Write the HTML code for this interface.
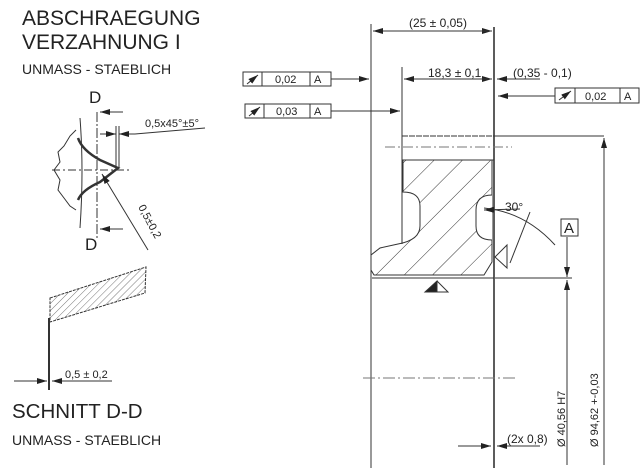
<!DOCTYPE html>
<html><head><meta charset="utf-8"><style>
html,body{margin:0;padding:0;background:#fff;}
svg{display:block;font-family:"Liberation Sans",sans-serif;}
</style></head><body>
<svg width="640" height="472" viewBox="0 0 640 472" xmlns="http://www.w3.org/2000/svg">
<defs>
<pattern id="h" patternUnits="userSpaceOnUse" width="20" height="20" patternTransform="rotate(45)"><line x1="0" y1="0" x2="0" y2="20" stroke="#333" stroke-width="1"/></pattern>
<pattern id="h2" patternUnits="userSpaceOnUse" width="5" height="5" patternTransform="rotate(45)"><line x1="0" y1="0" x2="0" y2="5" stroke="#555" stroke-width="0.8"/></pattern>
<marker id="a" markerWidth="10" markerHeight="6" refX="10" refY="3" orient="auto" markerUnits="userSpaceOnUse"><path d="M0,0 L10,3 L0,6z" fill="#222"/></marker>
</defs>
<g fill="#222">
<text x="22" y="25" font-size="21">ABSCHRAEGUNG</text>
<text x="22" y="49" font-size="21">VERZAHNUNG I</text>
<text x="22" y="74" font-size="14">UNMASS - STAEBLICH</text>
<text x="89" y="103" font-size="17">D</text>
<text x="85" y="250" font-size="17">D</text>
<text x="145" y="127" font-size="11">0,5x45°±5°</text>
<text x="0" y="0" font-size="11" transform="translate(138,207) rotate(62)">0,5±0,2</text>
<text x="12" y="418" font-size="20.5">SCHNITT D-D</text>
<text x="12" y="445" font-size="14">UNMASS - STAEBLICH</text>
<text x="65" y="378" font-size="11">0,5 ± 0,2</text>
<text x="409" y="27" font-size="12">(25 ± 0,05)</text>
<text x="428" y="77" font-size="12">18,3 ± 0,1</text>
<text x="513" y="77" font-size="12">(0,35 - 0,1)</text>
<text x="505" y="211" font-size="12">30°</text>
<text x="507" y="443" font-size="12">(2x 0,8)</text>
<text x="0" y="0" font-size="11" transform="translate(565,447) rotate(-90)">Ø 40,56 H7</text>
<text x="0" y="0" font-size="11" transform="translate(598,447) rotate(-90)">Ø 94,62 +-0,03</text>
<text x="564" y="233" font-size="15">A</text>
<text x="275" y="83" font-size="11">0,02</text><text x="314" y="83" font-size="11">A</text>
<text x="276" y="115" font-size="11">0,03</text><text x="314" y="115" font-size="11">A</text>
<text x="585" y="100" font-size="11">0,02</text><text x="624" y="100" font-size="11">A</text>
</g>
<g fill="none" stroke="#333" stroke-width="1">
<line x1="97" y1="112" x2="97" y2="240" stroke-dasharray="10,2,2,2"/>
<line x1="123" y1="112" x2="100" y2="112" marker-end="url(#a)"/>
<line x1="123" y1="229" x2="100" y2="229" marker-end="url(#a)"/>
<path d="M80 118 Q84 170 80 228"/>
<path d="M76 130 L70 136 L64 146 L58 152 L60 162 L54 170 L60 180 L58 190 L64 198 L70 206 L76 210"/>
<path d="M78 138 Q82 150 100 160 L118 168 L100 182 Q82 190 78 200" stroke-width="2.5"/>
<line x1="52" y1="170" x2="132" y2="170" stroke-dasharray="8,3,2,3"/>
<line x1="116" y1="126" x2="116" y2="168"/><line x1="119" y1="126" x2="119" y2="168"/>
<line x1="100" y1="134" x2="116" y2="134" marker-end="url(#a)"/>
<line x1="135" y1="134" x2="119" y2="134" marker-end="url(#a)"/>
<line x1="135" y1="134" x2="205" y2="128"/>
<line x1="148" y1="250" x2="102" y2="174" marker-end="url(#a)"/>
<path d="M50 298 L146 267 L145 293 L50 322 Z" fill="url(#h2)" stroke-dasharray="3,1"/>
<line x1="49" y1="318" x2="49" y2="390" stroke-width="2"/>
<line x1="14" y1="381" x2="47" y2="381" marker-end="url(#a)"/>
<line x1="112" y1="381" x2="52" y2="381" marker-end="url(#a)"/>
<rect x="243" y="72" width="88" height="14"/><line x1="262" y1="72" x2="262" y2="86"/><line x1="310" y1="72" x2="310" y2="86"/>
<rect x="245" y="104" width="86" height="14"/><line x1="264" y1="104" x2="264" y2="118"/><line x1="310" y1="104" x2="310" y2="118"/>
<rect x="555" y="88" width="84" height="15"/><line x1="575" y1="88" x2="575" y2="103"/><line x1="620" y1="88" x2="620" y2="103"/>
<line x1="331" y1="79" x2="369" y2="79" marker-end="url(#a)"/>
<line x1="331" y1="111" x2="400" y2="111" marker-end="url(#a)"/>
<line x1="555" y1="96" x2="498" y2="96" marker-end="url(#a)"/>
<line x1="247" y1="84" x2="258" y2="75" marker-end="url(#a)"/>
<line x1="249" y1="116" x2="260" y2="107" marker-end="url(#a)"/>
<line x1="559" y1="100" x2="571" y2="91" marker-end="url(#a)"/>
<line x1="371" y1="24" x2="371" y2="468"/>
<line x1="494" y1="27" x2="494" y2="468" stroke-width="1.6"/>
<line x1="402" y1="67" x2="402" y2="244"/>
<line x1="373" y1="31" x2="492" y2="31" marker-end="url(#a)"/>
<line x1="492" y1="31" x2="373" y2="31" marker-end="url(#a)"/>
<line x1="404" y1="79" x2="492" y2="79" marker-end="url(#a)"/>
<line x1="492" y1="79" x2="404" y2="79" marker-end="url(#a)"/>
<line x1="540" y1="79" x2="497" y2="79" marker-end="url(#a)"/>
<rect x="402" y="136" width="92" height="24" stroke-dasharray="6,1"/>
<line x1="385" y1="147" x2="512" y2="147" stroke-dasharray="10,3,2,3" stroke="#777"/>
<path d="M403 160 L492 160 L492 262 L484 275 L374 275 L371 270 L371 255 L380 248 L398 244 Q420 240 420 226 L420 206 Q420 192 403 192 Z" fill="url(#h)"/>
<path d="M492 195 Q476 195 476 210 L476 226 Q476 240 492 240" fill="#fff"/>
<line x1="494" y1="136" x2="604" y2="136"/>
<line x1="604" y1="465" x2="604" y2="138" marker-end="url(#a)"/>
<line x1="495" y1="278" x2="572" y2="278"/>
<line x1="372" y1="278" x2="494" y2="278"/>
<line x1="567" y1="465" x2="567" y2="280" marker-end="url(#a)"/>
<line x1="567" y1="237" x2="567" y2="277" marker-end="url(#a)"/>
<rect x="561" y="219" width="17" height="17"/>
<path d="M484 208 Q525 212 555 245"/>
<line x1="520" y1="209" x2="484" y2="210" marker-end="url(#a)"/>
<line x1="510" y1="263" x2="530" y2="212"/>
<path d="M495 257 L507 245 L507 268 Z"/>
<path d="M425 292 L437 281 L437 292 Z" fill="#222"/>
<path d="M437 281 L448 292 L437 292"/>
<line x1="363" y1="378" x2="515" y2="378" stroke-dasharray="12,3,2,3" stroke="#777"/>
<line x1="458" y1="446" x2="491" y2="446" marker-end="url(#a)"/>
<line x1="540" y1="446" x2="497" y2="446" marker-end="url(#a)"/>
</g>
</svg>
</body></html>
